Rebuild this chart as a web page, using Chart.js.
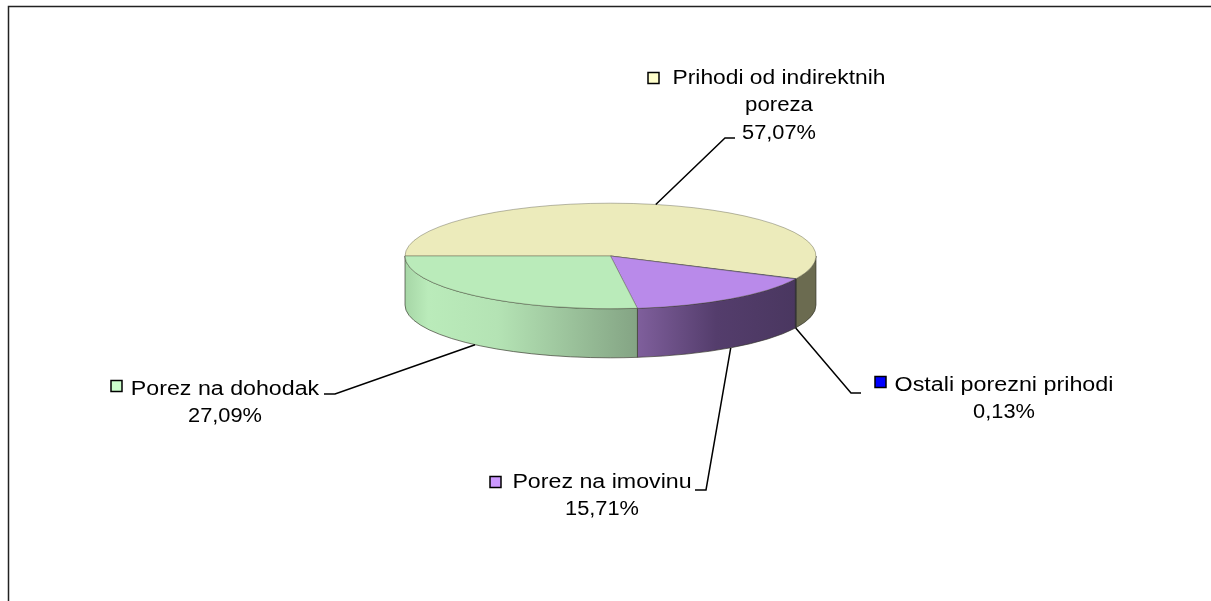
<!DOCTYPE html>
<html>
<head>
<meta charset="utf-8">
<style>
    html, body { margin: 0; padding: 0; background: #fff; overflow: hidden; }
    canvas { display: block; }
</style>
</head>
<body>
<canvas id="pie-chart" width="1211" height="601"></canvas>
<script src="https://cdn.jsdelivr.net/npm/chart.js@4"></script>
<script>
const categories = ["Prihodi od indirektnih poreza", "Ostali porezni prihodi", "Porez na imovinu", "Porez na dohodak"];
const values = [57.07, 0.13, 15.71, 27.09];

// couleurs : dessus, mur (gauche -> droite), carré de la légende
const topColors = ["#ecebbb", "#0000e0", "#b98aea", "#baebba"];
const keyColors = ["#ffffcc", "#0000ff", "#cc99ff", "#ccffcc"];
const wallColors = [
    [[0, "#6b6b50"], [1, "#6b6b50"]],
    [[0, "#00006b"], [1, "#00006b"]],
    [[0, "#7f5f9c"], [0.5, "#543d6c"], [1, "#4a3760"]],
    [[0, "#a6d6a6"], [0.1, "#baebba"], [0.4, "#b4e3b4"], [1, "#84a484"]]
];

// position des étiquettes : centre du texte, carré, étirement par ligne, ligne de rappel
const labelLayout = [
    { cx: 779, y: 78, keyX: 648, keyY: 78, stretch: [1.14, 1.11, 1.09], elbow: [725, 138], end: [735, 138] },
    { cx: 1004, y: 385, keyX: 875, keyY: 382, stretch: [1.165, 1.09], elbow: [851, 393], end: [861, 393] },
    { cx: 602, y: 482, keyX: 490, keyY: 482, stretch: [1.16, 1.09], elbow: [706, 490], end: [695, 490] },
    { cx: 225, y: 389, keyX: 111, keyY: 386, stretch: [1.16, 1.09], elbow: [335, 394], end: [324, 394] }
];

const squash = 0.257;
const depth = 49;

function wallPath(ctx, arc, from, to) {
    const r = arc.outerRadius;
    ctx.beginPath();
    ctx.ellipse(arc.x, arc.y, r, r * squash, 0, from, to);
    ctx.ellipse(arc.x, arc.y + depth, r, r * squash, 0, to, from, true);
    ctx.closePath();
}

// Faux 3D : on écrase le camembert et on dessine les murs avant les tranches
const pie3d = {
    id: "pie3d",
    beforeDatasetsDraw(chart) {
        const ctx = chart.ctx;
        const arcs = chart.getDatasetMeta(0).data;
        arcs.forEach((arc, i) => {
            // partie visible : moitié avant, entre 2pi et 3pi avec rotation 270
            const a0 = Math.max(arc.startAngle, 2 * Math.PI);
            const a1 = Math.min(arc.endAngle, 3 * Math.PI);
            if (a1 <= a0) return;
            const x0 = arc.x + arc.outerRadius * Math.cos(a1);
            const x1 = arc.x + arc.outerRadius * Math.cos(a0);
            const grad = ctx.createLinearGradient(x0, 0, x1, 0);
            wallColors[i].forEach(s => grad.addColorStop(s[0], s[1]));
            ctx.save();
            wallPath(ctx, arc, a0, a1);
            ctx.fillStyle = grad;
            ctx.fill();
            ctx.strokeStyle = "rgba(50,50,40,0.65)";
            ctx.lineWidth = 1;
            ctx.stroke();
            ctx.restore();
        });
        ctx.save();
        const a = arcs[0];
        ctx.translate(a.x, a.y);
        ctx.scale(1, squash);
        ctx.translate(-a.x, -a.y);
    },
    afterDatasetsDraw(chart) {
        chart.ctx.restore();
        drawLabels(chart);
    }
};

function drawLabels(chart) {
    const ctx = chart.ctx;
    const arcs = chart.getDatasetMeta(0).data;
    ctx.save();
    ctx.font = "20px 'Liberation Sans', Arial, sans-serif";
    ctx.textBaseline = "middle";
    ctx.textAlign = "center";
    arcs.forEach((arc, i) => {
        const pos = labelLayout[i];
        const lines = wrapText(ctx, categories[i], 230);
        lines.push(values[i].toFixed(2).replace(".", ",") + "%");

        lines.forEach((line, n) => {
            ctx.save();
            ctx.translate(pos.cx, pos.y + n * 27.5);
            ctx.scale(pos.stretch[n], 1);
            ctx.fillStyle = "#000";
            ctx.fillText(line, 0, 0);
            ctx.restore();
        });

        ctx.fillStyle = keyColors[i];
        ctx.strokeStyle = "#000";
        ctx.lineWidth = 1.5;
        ctx.fillRect(pos.keyX, pos.keyY - 5.5, 11, 11);
        ctx.strokeRect(pos.keyX, pos.keyY - 5.5, 11, 11);

        // ligne de rappel : part du milieu de la tranche
        const mid = (arc.startAngle + arc.endAngle) / 2;
        const sx = arc.x + arc.outerRadius * Math.cos(mid);
        let sy = arc.y + arc.outerRadius * squash * Math.sin(mid);
        if (Math.sin(mid) > 0) sy += depth;
        ctx.beginPath();
        ctx.moveTo(sx, sy);
        ctx.lineTo(pos.elbow[0], pos.elbow[1]);
        ctx.lineTo(pos.end[0], pos.end[1]);
        ctx.strokeStyle = "#000";
        ctx.lineWidth = 1.5;
        ctx.stroke();
    });
    ctx.restore();
}

function wrapText(ctx, text, maxWidth) {
    const lines = [];
    let cur = "";
    text.split(" ").forEach(word => {
        const next = cur ? cur + " " + word : word;
        if (ctx.measureText(next).width > maxWidth && cur) {
            lines.push(cur);
            cur = word;
        } else {
            cur = next;
        }
    });
    lines.push(cur);
    return lines;
}

// Cadre du graphique : seulement le haut et la gauche sont visibles
const frame = {
    id: "frame",
    beforeDraw(chart) {
        const ctx = chart.ctx;
        ctx.save();
        ctx.fillStyle = "#fff";
        ctx.fillRect(0, 0, 1211, 601);
        ctx.strokeStyle = "#222";
        ctx.lineWidth = 1.5;
        ctx.beginPath();
        ctx.moveTo(8.5, 601);
        ctx.lineTo(8.5, 6.5);
        ctx.lineTo(1211, 6.5);
        ctx.stroke();
        ctx.restore();
    }
};

const chart = new Chart(document.getElementById("pie-chart").getContext("2d"), {
    type: "pie",
    data: {
        labels: categories,
        datasets: [{
            data: values,
            backgroundColor: topColors,
            borderColor: "rgba(70,70,55,0.6)",
            borderWidth: 1
        }]
    },
    plugins: [frame, pie3d],
    options: {
        responsive: false,
        animation: false,
        rotation: 270,
        layout: { padding: { left: 404, right: 394, top: 50, bottom: 139 } },
        plugins: { legend: { display: false }, tooltip: { enabled: false } }
    }
});
</script>
</body>
</html>
